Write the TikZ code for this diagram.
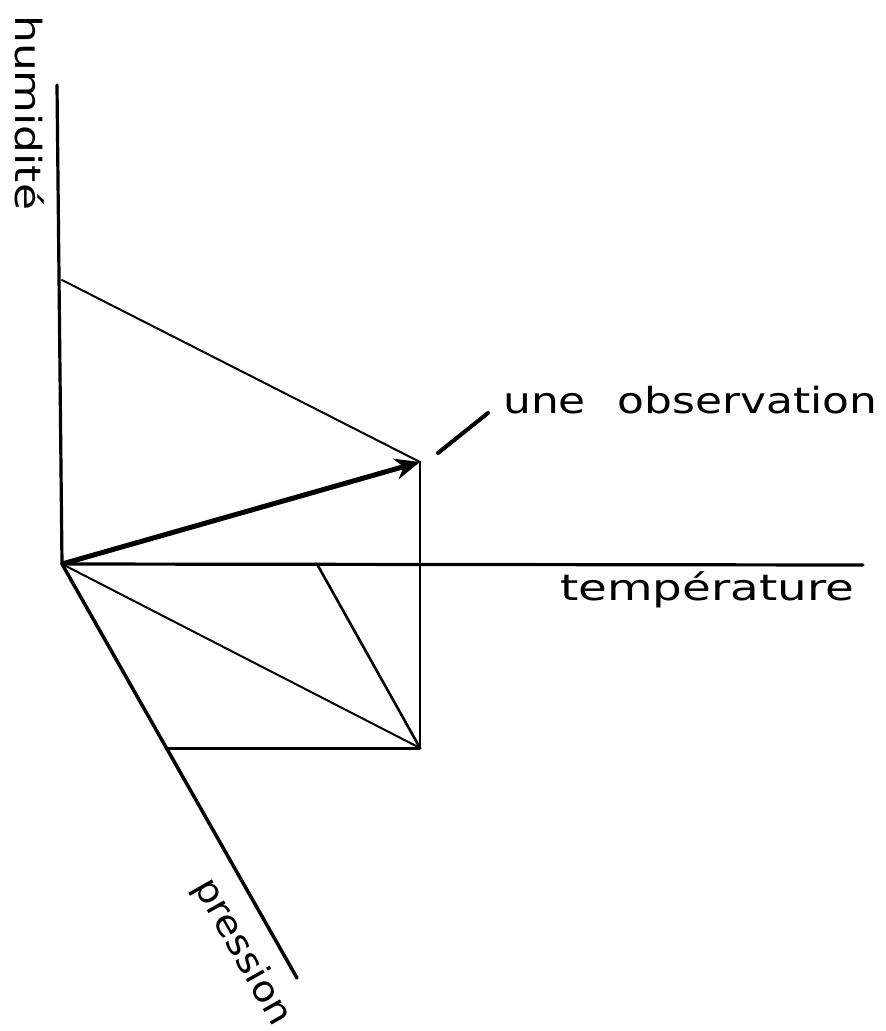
\documentclass[tikz,border=0pt]{standalone}
\usepackage{fontspec}
\setmainfont{DejaVu Sans}
\usetikzlibrary{arrows.meta}
\newcommand\stretchtxt[2]{\scalebox{#1}[1]{#2}}
\begin{document}
\begin{tikzpicture}[x=1pt,y=-1pt,
  axisline/.style={line width=3.2pt, line cap=round},
  edgeline/.style={line width=2.6pt, line cap=round},
  diagline/.style={line width=2pt, line cap=round},
  obsarrow/.style={line width=5pt, -{Stealth[length=25pt,width=21pt,inset=8pt]}},
  ticknote/.style={line width=4pt, line cap=round},
  hand/.style={inner sep=0pt, font=\fontsize{36}{40}\selectfont}]
\useasboundingbox (0,0) rectangle (886,1031);
% points
\coordinate (O) at (62,564);
\coordinate (Htop) at (57,85);
\coordinate (Tend) at (863,565);
\coordinate (Pend) at (297,978);
\coordinate (Hp) at (62,280);
\coordinate (Tp) at (317,564);
\coordinate (Obs) at (420,462);
\coordinate (Q) at (420,748);
\coordinate (F) at (166,748);
\coordinate (tickA) at (438,453);
\coordinate (tickB) at (488,413);
% axes
\draw[axisline] (O) -- (Htop);
\draw[axisline] (O) -- (Tend);
\draw[axisline, line width=3.5pt] (O) -- (Pend);
% construction
\draw[diagline] (Hp) -- (Obs);
\draw[edgeline] (Obs) -- (Q);
\draw[diagline] (O) -- (Q);
\draw[edgeline] (Tp) -- (Q);
\draw[axisline, line width=3pt] (F) -- (Q);
% observation vector
\draw[obsarrow] (O) -- (Obs);
\draw[ticknote] (tickA) -- (tickB);
% labels
\node[hand, anchor=base west] (lobs) at (503,413) {\stretchtxt{1.22}{une\hspace{0.4em} observation}};
\node[hand, anchor=base west] (ltemp) at (560,600) {\stretchtxt{1.3}{température}};
\node[hand, anchor=base west, rotate=-90] (lhum) at (15,15) {\stretchtxt{1.22}{humidité}};
\node[hand, anchor=base west, rotate=-60.4] (lpres) at (193,886) {\stretchtxt{1.08}{pression}};
\end{tikzpicture}
\end{document}
